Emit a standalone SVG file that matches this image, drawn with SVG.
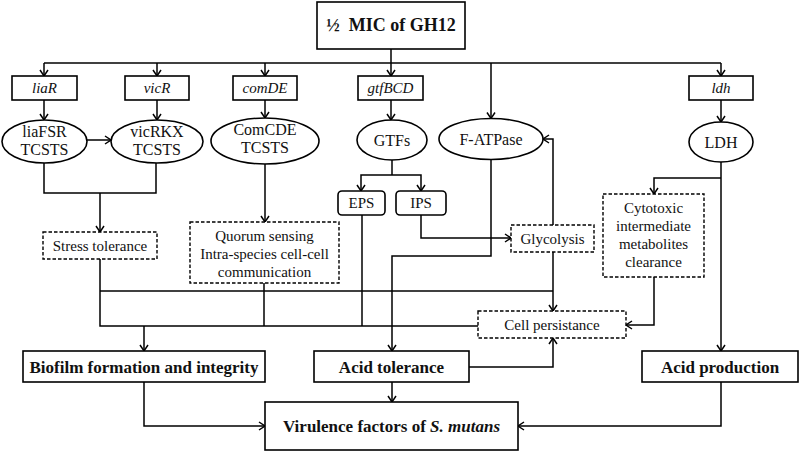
<svg xmlns="http://www.w3.org/2000/svg" width="800" height="452" viewBox="0 0 800 452">
<defs>
<marker id="ah" markerUnits="userSpaceOnUse" markerWidth="10" markerHeight="10" viewBox="0 0 10 10" refX="7" refY="5" orient="auto">
<path d="M1,1 L7,5 L1,9" fill="none" stroke="#000" stroke-width="1.5"/>
</marker>
</defs>
<style>
rect,ellipse{fill:#fff;stroke:#000;stroke-width:1.6}
.d{stroke-dasharray:3.5,2;stroke-width:1.4}
.c path{fill:none;stroke:#000;stroke-width:1.5}
.a{marker-end:url(#ah)}
text{font-family:"Liberation Serif","Times New Roman",serif;font-size:15px;fill:#111;text-anchor:middle}
.e{font-size:16px}
.i{font-style:italic}
.b{font-weight:bold;font-size:17px}
</style>
<rect width="800" height="452" style="fill:#fff;stroke:none"/>
<g class="c" id="connectors">
<path d="M391,49 V63"/>
<path d="M44,63 H721"/>
<path class="a" d="M44,63 V76"/>
<path class="a" d="M157,63 V76"/>
<path class="a" d="M265,63 V76"/>
<path class="a" d="M391,63 V76"/>
<path class="a" d="M491,63 V118.5"/>
<path class="a" d="M721,63 V76"/>
<path class="a" d="M44,100 V120"/>
<path class="a" d="M157,100 V120"/>
<path class="a" d="M265,100 V118"/>
<path class="a" d="M391,100 V120"/>
<path class="a" d="M721,100 V122"/>
<path class="a" d="M87,140 H111"/>
<path d="M44,163 V193 H156 V163"/>
<path class="a" d="M100,193 V232"/>
<path class="a" d="M265,164 V222"/>
<path d="M392,160 V175"/>
<path class="a" d="M392,175 H361 V191"/>
<path class="a" d="M392,175 H421 V191"/>
<path class="a" d="M421,215 V238 H511"/>
<path class="a" d="M491,159.5 V256 H392 V351"/>
<path class="a" d="M553,225 V139 H543"/>
<path class="a" d="M553,252 V311"/>
<path d="M362,215 V326"/>
<path d="M100,259 V326 H478"/>
<path d="M264,283 V326"/>
<path d="M100,291 H553"/>
<path class="a" d="M144,326 V351"/>
<path class="a" d="M721,162 V351"/>
<path class="a" d="M721,178 H654 V194"/>
<path class="a" d="M654,277 V325 H626"/>
<path class="a" d="M469,367 H553 V338"/>
<path class="a" d="M144,382 V426 H265"/>
<path class="a" d="M392,382 V402"/>
<path class="a" d="M721,382 V426 H518"/>
</g>
<g id="mic"><rect x="317" y="2" width="148" height="47"/><text class="b" x="391" y="31" style="font-size:18px">½&#160; MIC of GH12</text></g>
<g id="liaR"><rect x="12" y="76" width="65" height="24"/><text class="i" x="44.5" y="93">liaR</text></g>
<g id="vicR"><rect x="125" y="76" width="64" height="24"/><text class="i" x="157" y="93">vicR</text></g>
<g id="comDE"><rect x="233" y="76" width="64" height="24"/><text class="i" x="265" y="93">comDE</text></g>
<g id="gtfBCD"><rect x="358" y="76" width="65" height="24"/><text class="i" x="390.5" y="93">gtfBCD</text></g>
<g id="ldh"><rect x="689" y="76" width="64" height="24"/><text class="i" x="721" y="93">ldh</text></g>
<g id="liaFSR"><ellipse cx="44.5" cy="141.5" rx="42.5" ry="21.5"/><text class="e" x="44.5" y="137">liaFSR</text><text class="e" x="44.5" y="155">TCSTS</text></g>
<g id="vicRKX"><ellipse cx="157" cy="141.5" rx="46" ry="21.5"/><text class="e" x="157" y="137">vicRKX</text><text class="e" x="157" y="155">TCSTS</text></g>
<g id="ComCDE"><ellipse cx="265" cy="141" rx="54" ry="23"/><text class="e" x="265" y="135">ComCDE</text><text class="e" x="265" y="153">TCSTS</text></g>
<g id="GTFs"><ellipse cx="392" cy="140" rx="35" ry="20"/><text class="e" x="392" y="145.5">GTFs</text></g>
<g id="FATPase"><ellipse cx="491" cy="139" rx="52" ry="20.5"/><text class="e" x="491" y="144.5">F-ATPase</text></g>
<g id="LDH"><ellipse cx="721" cy="142" rx="32" ry="20"/><text class="e" x="721" y="147.5">LDH</text></g>
<g id="EPS"><rect x="338" y="191" width="47" height="24" rx="4"/><text x="361.5" y="208">EPS</text></g>
<g id="IPS"><rect x="396" y="191" width="50" height="24" rx="4"/><text x="421" y="208">IPS</text></g>
<g id="stress"><rect class="d" x="43" y="232" width="114" height="27"/><text x="100" y="251">Stress tolerance</text></g>
<g id="quorum"><rect class="d" x="190" y="222" width="149" height="61"/><text x="264.5" y="241">Quorum sensing</text><text x="264.5" y="259">Intra-species cell-cell</text><text x="264.5" y="277">communication</text></g>
<g id="glycolysis"><rect class="d" x="511" y="225" width="83" height="27"/><text x="552.5" y="244">Glycolysis</text></g>
<g id="cytotoxic"><rect class="d" x="603" y="194" width="101" height="83"/><text x="653.5" y="213">Cytotoxic</text><text x="653.5" y="231">intermediate</text><text x="653.5" y="249">metabolites</text><text x="653.5" y="267">clearance</text></g>
<g id="persistance"><rect class="d" x="478" y="311" width="148" height="27"/><text x="552" y="330">Cell persistance</text></g>
<g id="biofilm"><rect x="23" y="351" width="242" height="31"/><text class="b" x="144" y="373">Biofilm formation and integrity</text></g>
<g id="acidtol"><rect x="314" y="351" width="155" height="31"/><text class="b" x="391.5" y="373">Acid tolerance</text></g>
<g id="acidprod"><rect x="642" y="351" width="156" height="31"/><text class="b" x="720" y="373">Acid production</text></g>
<g id="virulence"><rect x="265" y="402" width="253" height="48"/><text class="b" x="391.5" y="432">Virulence factors of <tspan font-style="italic">S. mutans</tspan></text></g>
</svg>
